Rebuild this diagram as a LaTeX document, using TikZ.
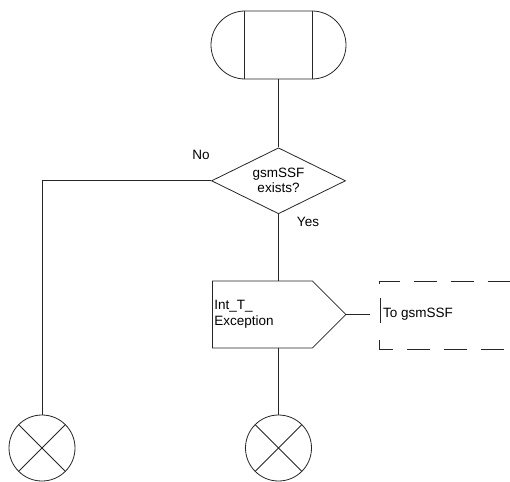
\documentclass[tikz,border=0pt]{standalone}
\usepackage{fontspec}
\setmainfont{Liberation Sans}
\usepackage{tikz}
\usetikzlibrary{positioning,shapes.geometric,shapes.misc,shapes.symbols}
\tikzset{
  sdlline/.style={line width=0.8pt,draw=black!85},
  terminal/.style={rounded rectangle,sdlline,inner sep=0pt,minimum width=135pt,minimum height=68pt},
  decision/.style={diamond,sdlline,aspect=2,inner sep=0pt,minimum width=134pt,minimum height=66pt,align=center,font=\fontsize{13.5}{15}\selectfont},
  outsig/.style={signal,signal to=east,signal pointer angle=90,sdlline,inner xsep=2pt,text width=96pt,minimum height=67pt,align=left,font=\fontsize{13.5}{16.5}\selectfont},
  endpoint/.style={circle,sdlline,inner sep=0pt,minimum size=66pt},
  notebox/.style={inner xsep=3pt,minimum height=25pt,font=\fontsize{13.5}{15}\selectfont},
  lbl/.style={inner sep=0pt,font=\fontsize{13.5}{15}\selectfont},
  flow/.style={sdlline},
  commentline/.style={sdlline,dash pattern=on 23pt off 14pt}
}
\begin{document}
\begin{tikzpicture}[x=1pt,y=-1pt]
  \useasboundingbox (0,0) rectangle (510,481);
  \node[terminal] (start) at (278.5,45) {};
  \draw[sdlline] ([xshift=-34pt]start.north) -- ([xshift=-34pt]start.south);
  \draw[sdlline] ([xshift=34pt]start.north) -- ([xshift=34pt]start.south);
  \node[decision,below=68pt of start] (exists) {gsmSSF\\exists?};
  \node[lbl] (no) at (201,155) {No};
  \node[lbl] (yes) at (308,222) {Yes};
  \node[outsig,anchor=west] (exc) at (212,314.5) {Int\_T\_\\Exception};
  \node[notebox,anchor=west] (note) at (380,314) {To gsmSSF};
  \coordinate (noteend) at (370,314.5);
  \node[endpoint] (stopL) at (42,448) {};
  \node[endpoint] (stopR) at (278.5,448) {};
  \foreach \c in {stopL,stopR}{
    \draw[sdlline] (\c.45) -- (\c.225);
    \draw[sdlline] (\c.135) -- (\c.315);
  }
  % connectors
  \draw[flow] (start) -- (exists);
  \draw[flow] (exists.west) -| (stopL.north);
  \draw[flow] (exists.south) -- (exists.south |- exc.north);
  \draw[flow] (exists.south |- exc.south) -- (stopR.north);
  \draw[flow] (exc.east) -- (noteend);
  % comment symbol
  \draw[sdlline] ([yshift=3.5pt]note.north west) -- ([yshift=3.5pt]note.south west);
  \draw[commentline] (379,283.5) -- (379,281) -- (510,281);
  \draw[commentline] (379,340) -- (379,349) -- (510,349);
\end{tikzpicture}
\end{document}
